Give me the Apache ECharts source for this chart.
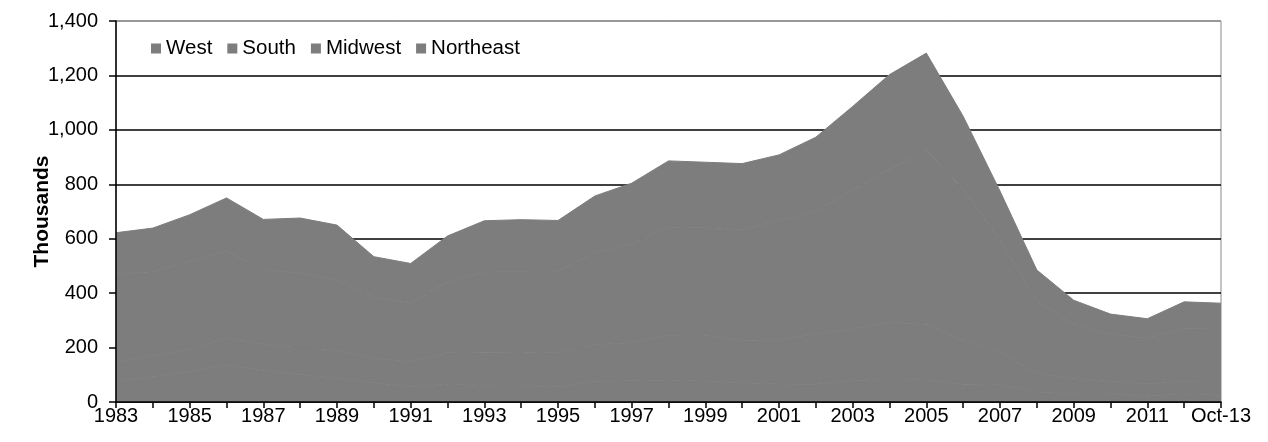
<!DOCTYPE html>
<html>
<head>
<meta charset="utf-8">
<script src="https://cdn.jsdelivr.net/npm/echarts@6/dist/echarts.min.js"></script>
<style>
  html, body { margin: 0; padding: 0; background: #fff; }
  #chart { width: 1268px; height: 442px; }
</style>
</head>
<body>
<div id="chart"></div>
<script>
// New single-family homes sold by region, thousands
const years = ['1983','1984','1985','1986','1987','1988','1989','1990','1991','1992',
  '1993','1994','1995','1996','1997','1998','1999','2000','2001','2002',
  '2003','2004','2005','2006','2007','2008','2009','2010','2011','2012','Oct-13'];

const northeast = [76, 94, 112, 136, 117, 101, 86, 71, 57, 65,
  60, 61, 55, 74, 78, 81, 76, 71, 66, 65,
  79, 83, 81, 63, 65, 35, 31, 31, 21, 29, 25];
const midwest = [71, 76, 82, 96, 97, 97, 102, 89, 93, 116,
  123, 123, 125, 137, 140, 164, 168, 155, 164, 185,
  189, 210, 205, 161, 118, 70, 54, 45, 45, 47, 50];
const south = [323, 309, 323, 322, 271, 276, 260, 225, 215, 259,
  295, 295, 300, 337, 363, 398, 395, 406, 439, 450,
  511, 562, 638, 559, 411, 266, 202, 173, 168, 195, 195];
const west = [152, 160, 171, 196, 186, 202, 202, 149, 144, 170,
  188, 191, 187, 209, 223, 243, 242, 244, 239, 273,
  307, 348, 358, 267, 181, 114, 87, 74, 72, 97, 93];

const legendOrder = ['West', 'South', 'Midwest', 'Northeast'];
const yTicks = { min: 0, max: 1400, step: 200 };

const font = 'Liberation Sans, Arial, sans-serif';
const fill = '#7d7d7d';

// stacked bottom-up: Northeast, Midwest, South, West
const stackSeries = [
  ['Northeast', northeast],
  ['Midwest', midwest],
  ['South', south],
  ['West', west]
].map(([name, data]) => ({
  name,
  type: 'line',
  stack: 'total',
  data,
  yAxisIndex: 0,
  showSymbol: false,
  symbol: 'none',
  z: 2,
  // a thin edge in the fill colour closes the seams between bands
  lineStyle: { width: 1, color: fill },
  areaStyle: { color: fill, opacity: 1 },
  itemStyle: { color: fill },
  emphasis: { disabled: true }
}));

const chart = echarts.init(document.getElementById('chart'), null, { renderer: 'canvas' });
chart.setOption({
  animation: false,
  backgroundColor: '#fff',
  grid: {
    left: 116, right: 47, top: 21, bottom: 40,
    show: true, borderColor: '#8a8a8a', borderWidth: 1, backgroundColor: 'transparent'
  },
  legend: {
    data: legendOrder,
    left: 146, top: 33,
    itemWidth: 10, itemHeight: 10, itemGap: 15,
    icon: 'rect',
    textStyle: { fontFamily: font, fontSize: 20.5, color: '#000', padding: [0, 0, 0, 0] }
  },
  xAxis: {
    type: 'category',
    data: years,
    boundaryGap: false,
    z: 5,
    axisLine: { show: true, lineStyle: { color: '#000', width: 1.5 } },
    axisTick: { show: true, alignWithLabel: true, interval: 0, length: 6, lineStyle: { color: '#000', width: 1.5 } },
    axisLabel: { interval: 1, fontFamily: font, fontSize: 20, color: '#000', margin: 4 },
    splitLine: { show: false }
  },
  yAxis: [
    {
      // gridlines, drawn beneath the areas
      type: 'value',
      min: yTicks.min, max: yTicks.max, interval: yTicks.step,
      z: 0,
      axisLine: { show: false },
      axisTick: { show: false },
      axisLabel: { show: false },
      splitLine: {
        show: true,
        lineStyle: { color: ['#000', '#000', '#000', '#000', '#000', '#000', '#000', '#8a8a8a'], width: 1.5 }
      }
    },
    {
      // axis line, ticks, labels and title, drawn above the areas
      type: 'value',
      position: 'left',
      min: yTicks.min, max: yTicks.max, interval: yTicks.step,
      z: 5,
      name: 'Thousands',
      nameLocation: 'middle',
      nameGap: 63,
      nameMoveOverlap: false,
      nameTextStyle: { fontFamily: font, fontSize: 21, fontWeight: 'bold', color: '#000' },
      axisLine: { show: true, lineStyle: { color: '#000', width: 1.5 } },
      axisTick: { show: true, length: 7, lineStyle: { color: '#000', width: 1.5 } },
      axisLabel: {
        fontFamily: font, fontSize: 20, color: '#000', margin: 18,
        formatter: v => v.toLocaleString('en-US')
      },
      splitLine: { show: false }
    }
  ],
  series: stackSeries
});
</script>
</body>
</html>
